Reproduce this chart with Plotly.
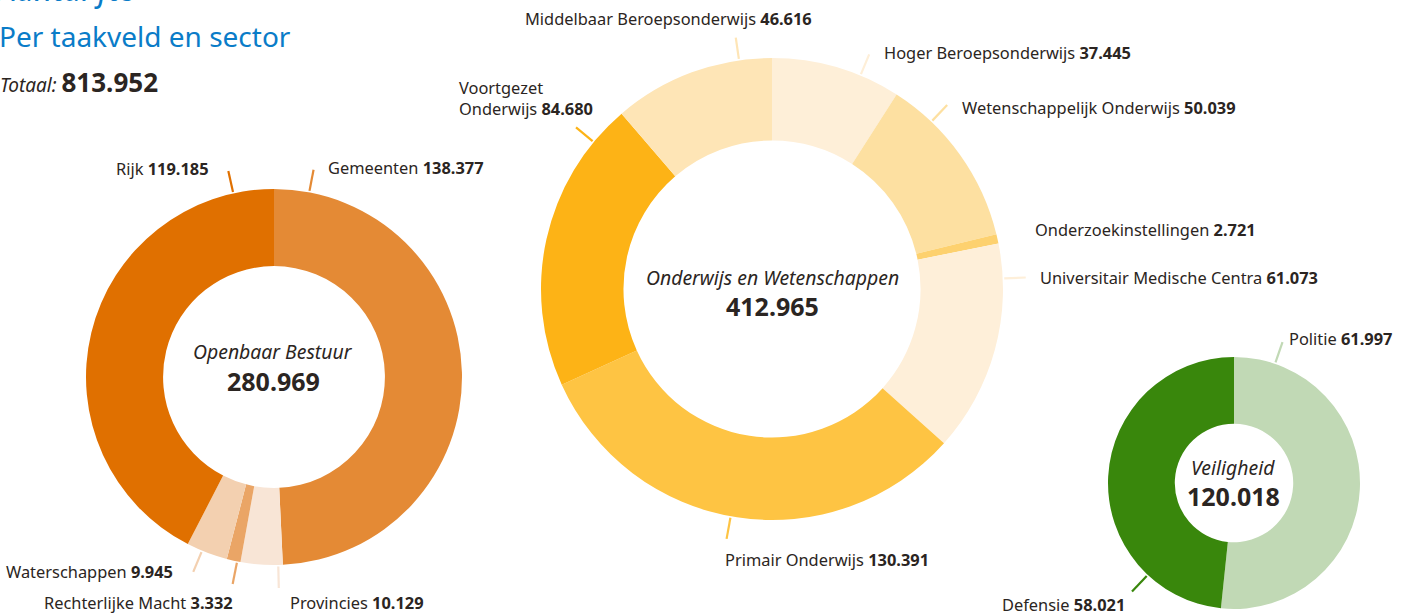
import math
import plotly.graph_objects as go

# ---------------- data ----------------
title_top = "Aantal fte"
subtitle = "Per taakveld en sector"
grand_total = 813952

group_names = ["Openbaar Bestuur", "Onderwijs en Wetenschappen", "Veiligheid"]
group_totals = [280969, 412965, 120018]

ob_labels = ["Gemeenten", "Provincies", "Rechterlijke Macht", "Waterschappen", "Rijk"]
ob_values = [138377, 10129, 3332, 9945, 119185]

ow_labels = ["Hoger Beroepsonderwijs", "Wetenschappelijk Onderwijs", "Onderzoekinstellingen",
             "Universitair Medische Centra", "Primair Onderwijs", "Voortgezet Onderwijs",
             "Middelbaar Beroepsonderwijs"]
ow_values = [37445, 50039, 2721, 61073, 130391, 84680, 46616]

vg_labels = ["Politie", "Defensie"]
vg_values = [61997, 58021]

# ---------------- style ----------------
W, H = 1407, 613
FONT = "Noto Sans"
TXT = "#2b2522"
BLUE = "#0a7cc8"
LABEL_SIZE = 16.4

ob_colors = ["#e48a35", "#f8e5d6", "#eaa566", "#f3d0b0", "#e07000"]
ow_colors = ["#feefd8", "#fde0a1", "#fdd16f", "#feefd9", "#fec443", "#fdb316", "#fee5b6"]
vg_colors = ["#c1d9b5", "#39870c"]

# label placement: angle (deg clockwise from 12 o'clock), draw line?, dx, dy, xanchor, line break
ob_place = {
    "Gemeenten": (10.8, True, 12, -2, "left", False),
    "Provincies": (178.7, True, 9, 15, "left", False),
    "Rechterlijke Macht": (191.3, True, 2, 19, "right", False),
    "Waterschappen": (202.5, True, -18, 0, "right", False),
    "Rijk": (-12.5, True, -17, -3, "right", False),
}
ow_place = {
    "Hoger Beroepsonderwijs": (22.5, True, 13, -2, "left", False),
    "Wetenschappelijk Onderwijs": (43.6, True, 13, 2, "left", False),
    "Onderzoekinstellingen": (77.0, False, 14, -2, "left", False),
    "Universitair Medische Centra": (87.4, True, 12, 0, "left", False),
    "Primair Onderwijs": (190.3, True, -4, 21, "left", False),
    "Voortgezet Onderwijs": (-50.5, True, -119, -29, "left", True),
    "Middelbaar Beroepsonderwijs": (-8.2, True, 78, -19, "right", False),
}
vg_place = {
    "Politie": (19.0, True, 4, -4, "left", False),
    "Defensie": (223.2, True, -5, 13, "right", False),
}

donuts = [
    dict(labels=ob_labels, values=ob_values, colors=ob_colors, place=ob_place,
         cx=274, cy=377, R=188, hole=0.59, name_dy=-25, num_dy=4, tx=273, name_size=19.4),
    dict(labels=ow_labels, values=ow_values, colors=ow_colors, place=ow_place,
         cx=772, cy=289, R=231, hole=0.643, name_dy=-12, num_dy=17, tx=772, name_size=19.4),
    dict(labels=vg_labels, values=vg_values, colors=vg_colors, place=vg_place,
         cx=1234, cy=483, R=126, hole=0.47, name_dy=-15, num_dy=13, tx=1233, name_size=19.4),
]


def fmt(v):
    return f"{v:,}".replace(",", ".")


def px(x):
    return x / W


def py(y):
    return 1 - y / H


fig = go.Figure()
shapes = []
annotations = []

for gi, d in enumerate(donuts):
    cx, cy, R = d["cx"], d["cy"], d["R"]
    fig.add_trace(go.Pie(
        labels=d["labels"], values=d["values"], sort=False, direction="clockwise",
        rotation=0, hole=d["hole"], textinfo="none",
        marker=dict(colors=d["colors"], line=dict(width=0)),
        domain=dict(x=[px(cx - R), px(cx + R)], y=[py(cy + R), py(cy - R)]),
        showlegend=False, hovertemplate="%{label}: %{value:,}<extra></extra>",
    ))
    for lab, val, col in zip(d["labels"], d["values"], d["colors"]):
        ang, line, dx, dy, xa, br = d["place"][lab]
        a = math.radians(ang)
        r1, r2 = R + 1.5, R + 23
        x1, y1 = cx + r1 * math.sin(a), cy - r1 * math.cos(a)
        x2, y2 = cx + r2 * math.sin(a), cy - r2 * math.cos(a)
        if line:
            shapes.append(dict(type="line", xref="paper", yref="paper",
                               x0=px(x1), y0=py(y1), x1=px(x2), y1=py(y2),
                               line=dict(color=col, width=2.2)))
        name = lab.replace(" ", "<br>", 1) if br else lab
        annotations.append(dict(
            x=px(x2 + dx), y=py(y2 + dy), xref="paper", yref="paper",
            text=f"{name} <b>{fmt(val)}</b>", showarrow=False, xanchor=xa,
            yanchor="middle", align="left",
            font=dict(family=FONT, size=LABEL_SIZE, color=TXT)))
    # centre texts
    annotations.append(dict(
        x=px(d["tx"]), y=py(cy + d["name_dy"]), xref="paper", yref="paper",
        text=f"<i>{group_names[gi]}</i>", showarrow=False, xanchor="center", yanchor="middle",
        font=dict(family=FONT, size=d["name_size"], color=TXT)))
    annotations.append(dict(
        x=px(d["tx"]), y=py(cy + d["num_dy"]), xref="paper", yref="paper",
        text=f"<b>{fmt(group_totals[gi])}</b>", showarrow=False, xanchor="center", yanchor="middle",
        font=dict(family=FONT, size=25, color=TXT)))

# titles
annotations.append(dict(x=px(-6), y=py(12), xref="paper", yref="paper", text=f"<i>{title_top}</i>",
                        showarrow=False, xanchor="left", yanchor="bottom",
                        font=dict(family=FONT, size=32, color=BLUE)))
annotations.append(dict(x=px(-3), y=py(36), xref="paper", yref="paper", text=subtitle,
                        showarrow=False, xanchor="left", yanchor="middle",
                        font=dict(family=FONT, size=28, color=BLUE)))
annotations.append(dict(x=px(-2), y=py(82), xref="paper", yref="paper",
                        text=f"<i>Totaal:</i> <span style='font-size:26px'><b>{fmt(grand_total)}</b></span>",
                        showarrow=False, xanchor="left", yanchor="middle",
                        font=dict(family=FONT, size=19, color=TXT)))

fig.update_layout(
    width=W, height=H, margin=dict(l=0, r=0, t=0, b=0),
    paper_bgcolor="white", plot_bgcolor="white",
    shapes=shapes, annotations=annotations,
)

fig.write_html("out.html", config={"displayModeBar": False},
               post_script="document.body.style.margin='0';document.body.style.overflow='hidden';")
